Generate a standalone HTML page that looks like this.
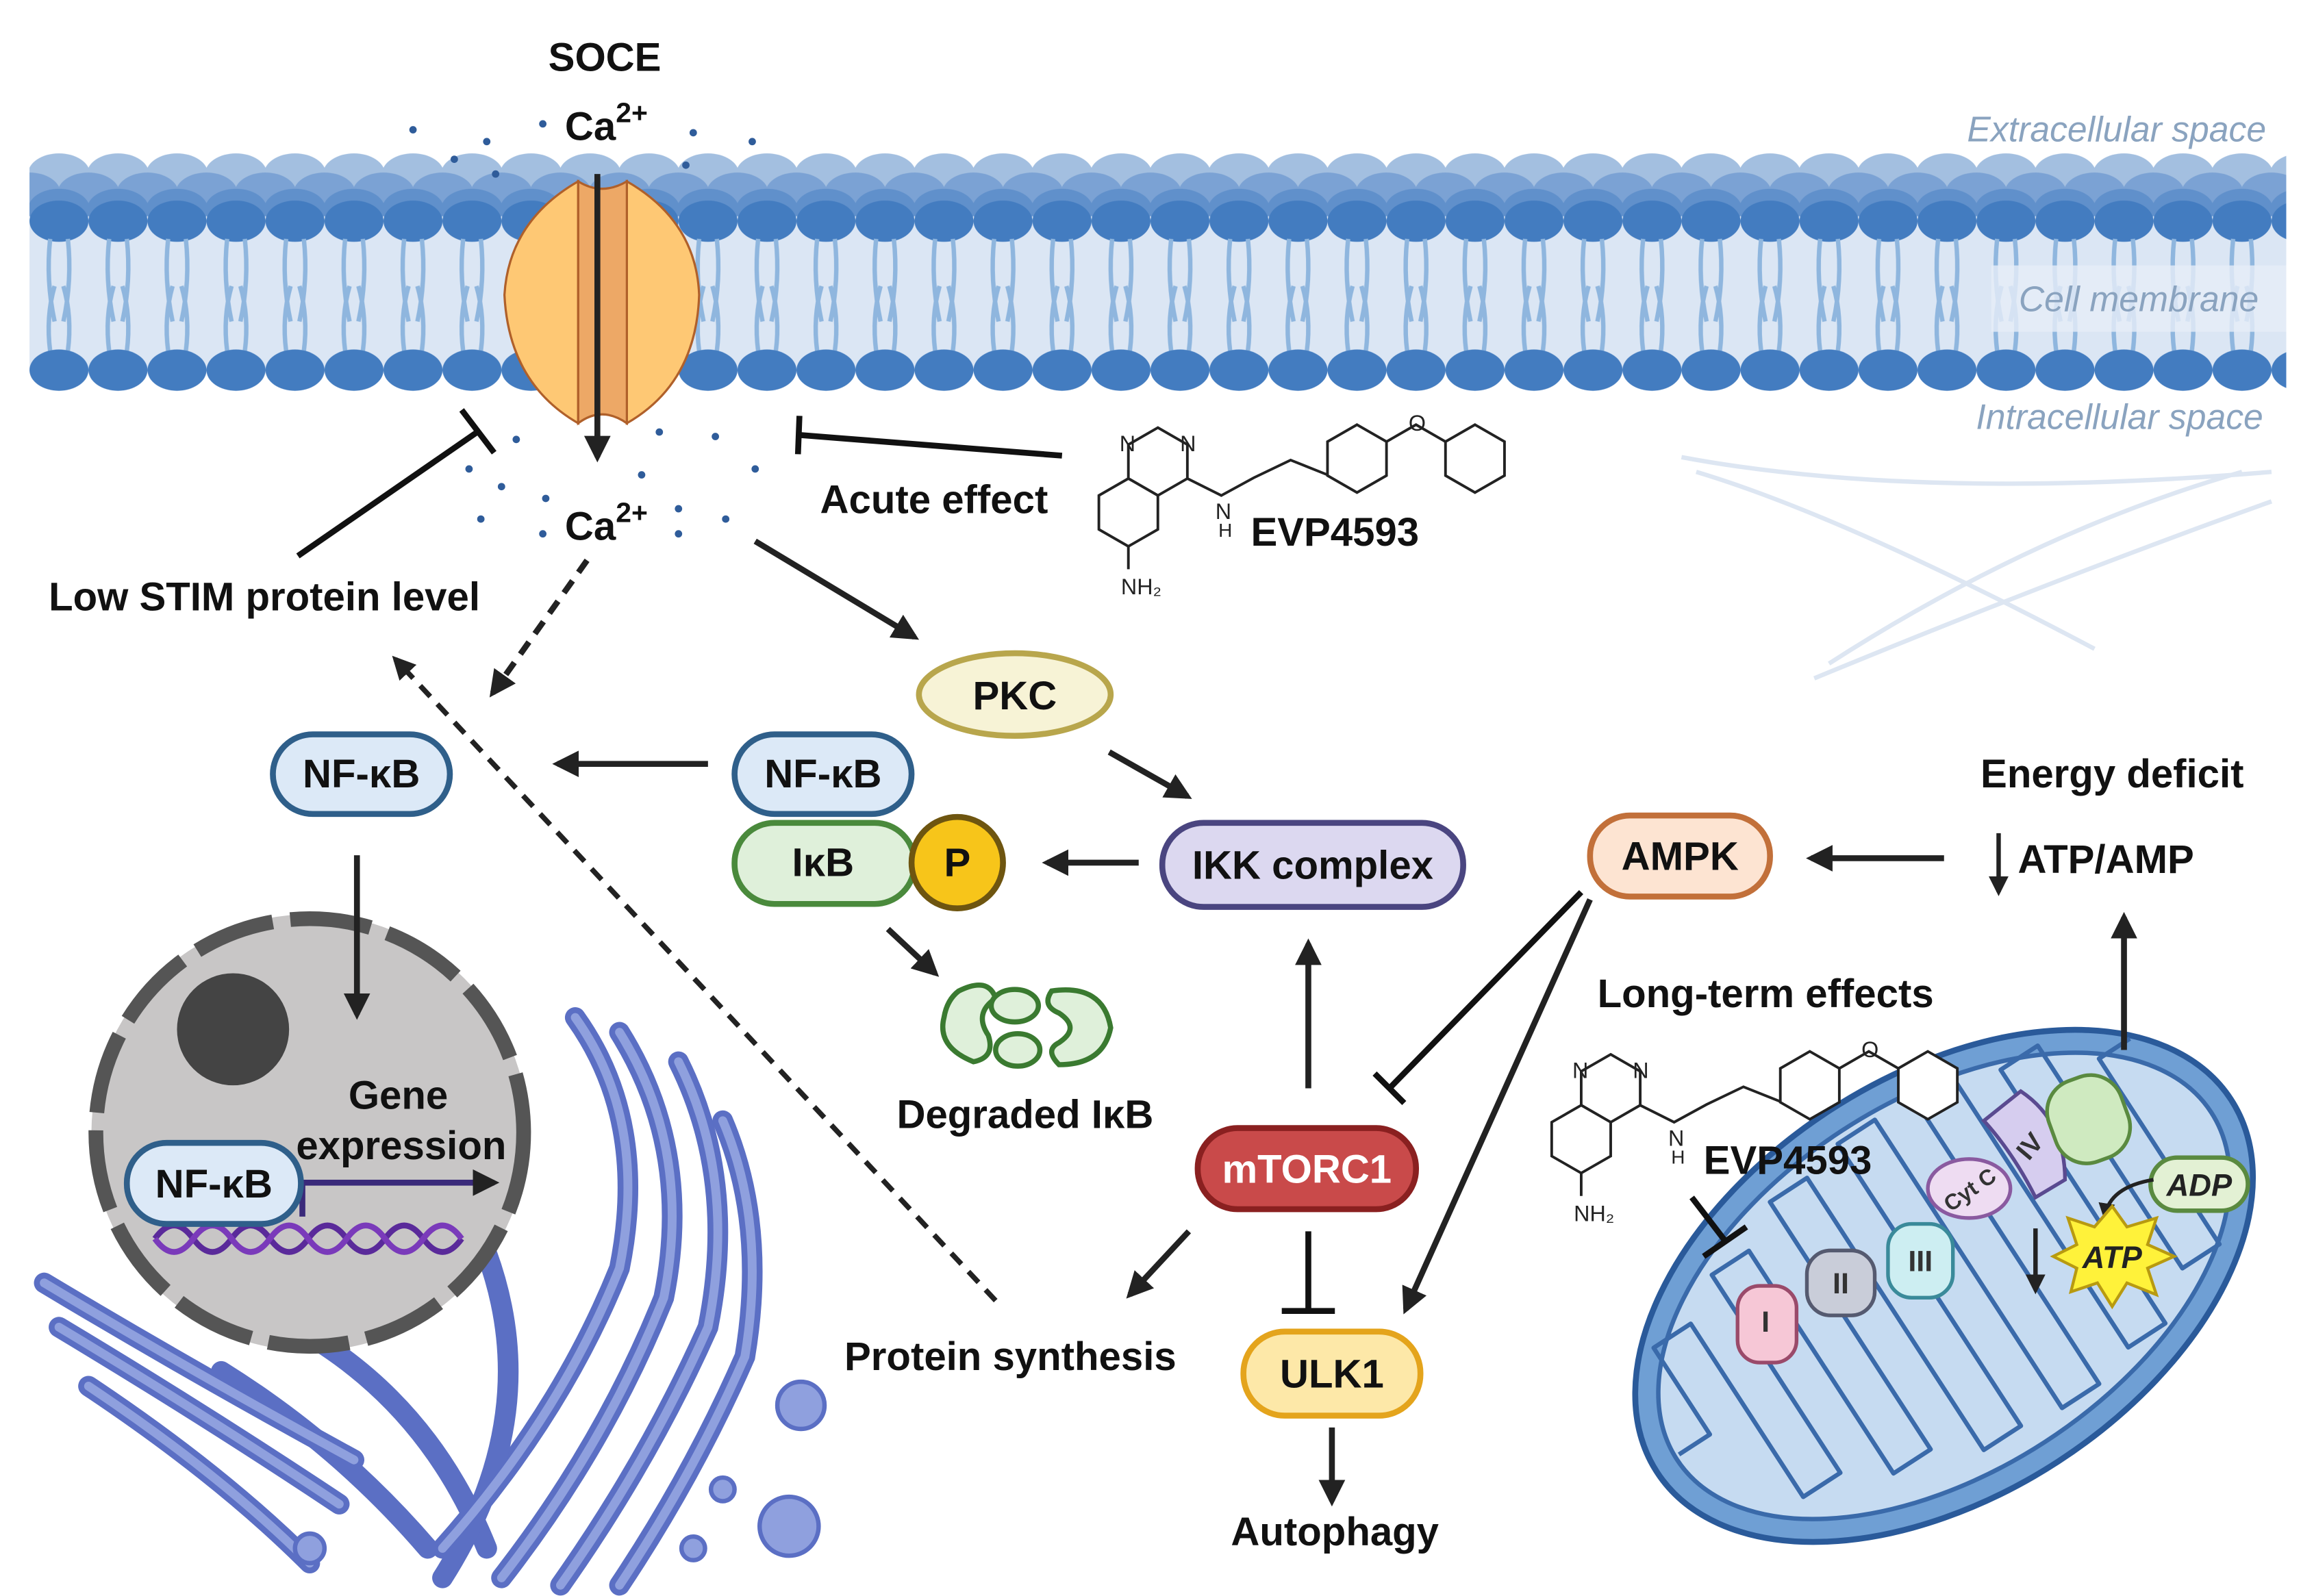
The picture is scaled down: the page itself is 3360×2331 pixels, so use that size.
<!DOCTYPE html>
<html><head><meta charset="utf-8"><style>
html,body{margin:0;padding:0;background:#fff}
svg{display:block}
text{font-family:"Liberation Sans",sans-serif}
.b{font-weight:bold;font-size:27px;fill:#111}
.it{font-style:italic;font-size:24px;fill:#8aa3bf}
</style></head><body>
<svg width="3360" height="2331" viewBox="0 0 1560 1082.3" preserveAspectRatio="none" xmlns="http://www.w3.org/2000/svg">
<defs>
<marker id="ah" viewBox="0 0 10 10" refX="8" refY="5" markerWidth="4.5" markerHeight="4.5" orient="auto"><path d="M0,0 L10,5 L0,10 z" fill="#222"/></marker>
<pattern id="heads" x="20" y="0" width="40" height="300" patternUnits="userSpaceOnUse">
<ellipse cx="20" cy="118" rx="21" ry="14" fill="#a3bfe0"/>
<ellipse cx="0" cy="131" rx="21" ry="14" fill="#7ba2d4"/><ellipse cx="40" cy="131" rx="21" ry="14" fill="#7ba2d4"/>
<ellipse cx="20" cy="142" rx="21" ry="14" fill="#6090cb"/>
<ellipse cx="20" cy="150" rx="20" ry="14" fill="#437cc0"/>
<path d="M14,162 Q11,190 17,218 M26,162 Q29,190 23,218 M14,238 Q11,215 17,194 M26,238 Q29,215 23,194" stroke="#8fb6de" stroke-width="3" fill="none"/>
<ellipse cx="20" cy="251" rx="20" ry="14" fill="#437cc0"/>
</pattern>
<g id="mol">
<g stroke="#222" stroke-width="1.8" fill="none">
<polygon points="785,290 805,301.5 805,324.5 785,336 765,324.5 765,301.5" fill="#fff"/>
<polygon points="765,324.5 785,336 785,359 765,370.5 745,359 745,336" fill="#fff"/>
<path d="M765,370.5 L765,386 M805,324.5 L828,336 L850,324 L875,312 L900,322"/>
<polygon points="920,288 940,299.5 940,322.5 920,334 900,322.5 900,299.5" fill="#fff"/>
<path d="M940,299.5 L960,288 L980,299.5"/>
<polygon points="1000,288 1020,299.5 1020,322.5 1000,334 980,322.5 980,299.5" fill="#fff"/>
</g>
<text x="759" y="306" font-size="15" fill="#222">N</text><text x="800" y="306" font-size="15" fill="#222">N</text>
<text x="824" y="352" font-size="15" fill="#222">N</text><text x="826" y="364" font-size="13" fill="#222">H</text>
<text x="955" y="292" font-size="15" fill="#222">O</text>
<text x="760" y="403" font-size="15" fill="#222">NH₂</text>
</g>
</defs>
<rect x="20" y="140" width="1530" height="112" fill="#dbe6f4"/>
<rect x="20" y="100" width="1530" height="170" fill="url(#heads)"/>
<rect x="1350" y="180" width="200" height="45" fill="#e6eef8" opacity="0.8"/>
<text class="it" x="1435" y="96" text-anchor="middle">Extracellular space</text>
<text class="it" x="1450" y="211" text-anchor="middle">Cell membrane</text>
<text class="it" x="1437" y="291" text-anchor="middle">Intracellular space</text>
<path d="M1140,310 Q1300,340 1540,320 M1150,320 Q1250,350 1420,440 M1240,450 Q1380,360 1520,320 M1230,460 Q1400,390 1540,340" stroke="#dde6f2" stroke-width="3" fill="none"/>
<!-- channel -->
<path d="M392,123 Q345,150 342,200 Q345,260 392,287 L392,123z" fill="#fec874" stroke="#b0602a" stroke-width="1.5"/>
<path d="M425,123 Q472,150 474,200 Q472,260 425,287 L425,123z" fill="#fec874" stroke="#b0602a" stroke-width="1.5"/>
<path d="M392,123 Q408,133 425,123 L425,287 Q408,275 392,287z" fill="#eda866" stroke="#b0602a" stroke-width="1.5"/>
<line x1="405" y1="118" x2="405" y2="310" stroke="#222" stroke-width="4" marker-end="url(#ah)"/>
<text x="410" y="48" class="b" font-size="33" text-anchor="middle">SOCE</text>
<text x="383" y="95" class="b" font-size="31">Ca<tspan font-size="19" dy="-12">2+</tspan></text>
<text x="383" y="366" class="b" font-size="31">Ca<tspan font-size="19" dy="-12">2+</tspan></text>
<g fill="#2f5c9a">
<circle cx="280" cy="88" r="2.5"/><circle cx="308" cy="108" r="2.5"/><circle cx="330" cy="96" r="2.5"/><circle cx="368" cy="84" r="2.5"/><circle cx="470" cy="90" r="2.5"/><circle cx="510" cy="96" r="2.5"/><circle cx="465" cy="112" r="2.5"/><circle cx="336" cy="118" r="2.5"/>
<circle cx="350" cy="298" r="2.5"/><circle cx="318" cy="318" r="2.5"/><circle cx="340" cy="330" r="2.5"/><circle cx="326" cy="352" r="2.5"/><circle cx="370" cy="338" r="2.5"/><circle cx="368" cy="362" r="2.5"/><circle cx="447" cy="293" r="2.5"/><circle cx="485" cy="296" r="2.5"/><circle cx="512" cy="318" r="2.5"/><circle cx="435" cy="322" r="2.5"/><circle cx="460" cy="345" r="2.5"/><circle cx="492" cy="352" r="2.5"/><circle cx="460" cy="362" r="2.5"/>
</g>
<line x1="202" y1="377" x2="325" y2="292" stroke="#111" stroke-width="4"/>
<line x1="313" y1="278" x2="335" y2="307" stroke="#111" stroke-width="4"/>
<text x="33" y="414" class="b">Low STIM protein level</text>
<line x1="720" y1="309" x2="542" y2="295" stroke="#111" stroke-width="4"/>
<line x1="542" y1="282" x2="541" y2="308" stroke="#111" stroke-width="4"/>
<text x="556" y="348" class="b">Acute effect</text>
<use href="#mol"/>
<text x="848" y="370" class="b" font-size="31">EVP4593</text>
<line x1="512" y1="367" x2="620" y2="432" stroke="#222" stroke-width="4" marker-end="url(#ah)"/>
<line x1="398" y1="380" x2="334" y2="470" stroke="#222" stroke-width="4" stroke-dasharray="10,7" marker-end="url(#ah)"/>
<line x1="675" y1="882" x2="268" y2="447" stroke="#222" stroke-width="3.5" stroke-dasharray="10,7" marker-end="url(#ah)"/>
<ellipse cx="688" cy="471" rx="65" ry="28" fill="#f7f3d6" stroke="#b8a64c" stroke-width="4"/>
<text x="688" y="481" class="b" text-anchor="middle">PKC</text>
<line x1="752" y1="510" x2="805" y2="540" stroke="#222" stroke-width="4" marker-end="url(#ah)"/>
<rect x="498" y="498" width="120" height="54" rx="27" fill="#dce9f7" stroke="#2f5f8a" stroke-width="4"/>
<text x="558" y="534" class="b" text-anchor="middle">NF-κB</text>
<rect x="498" y="558" width="122" height="55" rx="27" fill="#dff0da" stroke="#4a8a3c" stroke-width="4"/>
<text x="558" y="594" class="b" text-anchor="middle">IκB</text>
<circle cx="649" cy="585" r="31" fill="#f7c51a" stroke="#6e5510" stroke-width="4"/>
<text x="649" y="594" class="b" font-size="24" text-anchor="middle">P</text>
<line x1="480" y1="518" x2="378" y2="518" stroke="#222" stroke-width="4" marker-end="url(#ah)"/>
<rect x="185" y="498" width="120" height="54" rx="27" fill="#dce9f7" stroke="#2f5f8a" stroke-width="4"/>
<text x="245" y="534" class="b" text-anchor="middle">NF-κB</text>
<rect x="788" y="558" width="204" height="57" rx="28" fill="#dcd8f0" stroke="#4a4580" stroke-width="4"/>
<text x="890" y="596" class="b" text-anchor="middle">IKK complex</text>
<line x1="772" y1="585" x2="710" y2="585" stroke="#222" stroke-width="4" marker-end="url(#ah)"/>
<line x1="602" y1="630" x2="634" y2="660" stroke="#222" stroke-width="4" marker-end="url(#ah)"/>
<g fill="#dff0da" stroke="#3a7a30" stroke-width="3.5">
<path d="M650,672 q20,-10 25,5 q-15,10 -5,25 q5,15 -10,18 q-25,-10 -20,-30 q2,-12 10,-18z"/>
<ellipse cx="688" cy="682" rx="16" ry="11"/><ellipse cx="690" cy="712" rx="15" ry="11"/>
<path d="M713,672 q35,-5 40,25 q-5,25 -35,25 q-10,-10 0,-15 q15,-10 0,-20 q-12,-5 -5,-15z"/>
</g>
<text x="695" y="765" class="b" text-anchor="middle">Degraded IκB</text>
<rect x="1078" y="553" width="122" height="55" rx="27" fill="#fde4d2" stroke="#c2703a" stroke-width="4"/>
<text x="1139" y="590" class="b" text-anchor="middle">AMPK</text>
<line x1="1318" y1="582" x2="1228" y2="582" stroke="#222" stroke-width="4" marker-end="url(#ah)"/>
<text x="1432" y="534" class="b" text-anchor="middle">Energy deficit</text>
<line x1="1355" y1="565" x2="1355" y2="605" stroke="#222" stroke-width="3" marker-end="url(#ah)"/>
<text x="1368" y="592" class="b">ATP/AMP</text>
<line x1="1072" y1="605" x2="942" y2="738" stroke="#111" stroke-width="4"/>
<line x1="932" y1="728" x2="952" y2="748" stroke="#111" stroke-width="4"/>
<line x1="1078" y1="610" x2="953" y2="888" stroke="#222" stroke-width="4" marker-end="url(#ah)"/>
<line x1="887" y1="738" x2="887" y2="640" stroke="#222" stroke-width="4" marker-end="url(#ah)"/>
<rect x="812" y="765" width="148" height="55" rx="27" fill="#c94a4a" stroke="#8a2020" stroke-width="4"/>
<text x="886" y="802" class="b" text-anchor="middle" style="fill:#fff">mTORC1</text>
<line x1="806" y1="835" x2="766" y2="878" stroke="#222" stroke-width="4" marker-end="url(#ah)"/>
<line x1="887" y1="835" x2="887" y2="888" stroke="#111" stroke-width="4"/>
<line x1="869" y1="889" x2="905" y2="889" stroke="#111" stroke-width="4"/>
<text x="685" y="929" class="b" text-anchor="middle">Protein synthesis</text>
<rect x="843" y="903" width="120" height="57" rx="28" fill="#fde8a8" stroke="#e4a41c" stroke-width="4"/>
<text x="903" y="941" class="b" text-anchor="middle">ULK1</text>
<line x1="903" y1="968" x2="903" y2="1018" stroke="#222" stroke-width="4" marker-end="url(#ah)"/>
<text x="905" y="1048" class="b" text-anchor="middle">Autophagy</text>
<!-- mitochondrion -->
<g transform="rotate(-33 1318 872)">
<ellipse cx="1318" cy="872" rx="232" ry="142" fill="#6f9fd4" stroke="#2a5a9a" stroke-width="4"/>
<ellipse cx="1318" cy="872" rx="216" ry="126" fill="#c6dbf1" stroke="#3a6aaa" stroke-width="3"/>
<path d="M1105,870 L1130,870 L1130,800 L1160,800 L1160,940 L1190,940 L1190,780 L1220,780 L1220,960 L1250,960 L1250,760 L1280,760 L1280,980 L1310,980 L1310,752 L1340,752 L1340,985 L1370,985 L1370,755 L1400,755 L1400,975 L1430,975 L1430,770 L1460,770 L1460,950 L1490,950 L1490,800 L1515,800" fill="none" stroke="#3a6aaa" stroke-width="3" stroke-linejoin="round"/>
</g>
<line x1="1440" y1="712" x2="1440" y2="622" stroke="#222" stroke-width="4" marker-end="url(#ah)"/>
<g stroke-width="2.5">
<rect x="1178" y="872" width="40" height="52" rx="15" fill="#f6c7d6" stroke="#9a4a6a"/>
<rect x="1225" y="848" width="46" height="44" rx="16" fill="#c9cdd9" stroke="#555a70"/>
<rect x="1280" y="830" width="44" height="50" rx="16" fill="#cdeef2" stroke="#3a8a9a"/>
<ellipse cx="1335" cy="806" rx="28" ry="20" fill="#eedcf2" stroke="#8a5aa0"/>
<path d="M1345,760 l25,-20 q30,20 30,60 l-20,12 q-15,-30 -35,-52z" fill="#d6cdef" stroke="#5a4a90"/>
<rect x="1390" y="730" width="52" height="58" rx="22" fill="#cfeac0" stroke="#5a8a40" transform="rotate(-20 1416 759)"/>
</g>
<text x="1197" y="903" font-size="20" font-weight="bold" fill="#333" text-anchor="middle">I</text>
<text x="1248" y="877" font-size="20" font-weight="bold" fill="#333" text-anchor="middle">II</text>
<text x="1302" y="862" font-size="20" font-weight="bold" fill="#333" text-anchor="middle">III</text>
<text x="1335" y="812" font-size="15" font-weight="bold" fill="#333" text-anchor="middle" transform="rotate(-35 1335 806)">Cyt C</text>
<text x="1377" y="783" font-size="18" font-weight="bold" fill="#333" text-anchor="middle" transform="rotate(-50 1377 778)">IV</text>
<rect x="1458" y="785" width="66" height="36" rx="18" fill="#e3f1d4" stroke="#5a8a40" stroke-width="3"/>
<text x="1491" y="811" font-size="21" font-weight="bold" font-style="italic" fill="#222" text-anchor="middle">ADP</text>
<path d="M1460,800 Q1430,805 1427,825" stroke="#222" stroke-width="2.5" fill="none" marker-end="url(#ah)"/>
<polygon points="1432,818 1442,832 1462,826 1456,844 1474,852 1456,860 1462,878 1442,870 1432,886 1422,870 1404,876 1408,860 1392,852 1408,844 1402,826 1420,832" fill="#fff23a" stroke="#b89a10" stroke-width="2"/>
<text x="1432" y="860" font-size="21" font-weight="bold" font-style="italic" fill="#222" text-anchor="middle">ATP</text>
<line x1="1380" y1="833" x2="1380" y2="875" stroke="#222" stroke-width="3" marker-end="url(#ah)"/>
<!-- long-term -->
<text x="1197" y="683" class="b" text-anchor="middle">Long-term effects</text>
<use href="#mol" transform="translate(307,425)"/>
<text x="1155" y="796" class="b" font-size="31">EVP4593</text>
<line x1="1147" y1="812" x2="1170" y2="842" stroke="#111" stroke-width="4"/>
<line x1="1155" y1="852" x2="1184" y2="832" stroke="#111" stroke-width="4"/>
<!-- ER -->
<g fill="none" stroke="#5b6fc4" stroke-width="14" stroke-linecap="round">
<path d="M390,690 Q440,760 420,860 Q380,960 300,1050"/>
<path d="M420,700 Q470,780 450,880 Q410,980 340,1070"/>
<path d="M460,720 Q500,800 480,900 Q440,990 380,1075"/>
<path d="M490,760 Q520,830 505,920 Q470,1000 420,1075"/>
<path d="M30,870 Q130,930 240,990"/>
<path d="M40,900 Q140,960 230,1020"/>
<path d="M60,940 Q150,1000 210,1060"/>
<path d="M150,930 Q230,980 290,1050"/>
<path d="M200,900 Q290,950 330,1050"/>
<path d="M330,850 Q370,960 300,1070"/>
</g>
<g fill="none" stroke="#8fa0de" stroke-width="6" stroke-linecap="round">
<path d="M390,690 Q440,760 420,860 Q380,960 300,1050"/>
<path d="M420,700 Q470,780 450,880 Q410,980 340,1070"/>
<path d="M460,720 Q500,800 480,900 Q440,990 380,1075"/>
<path d="M490,760 Q520,830 505,920 Q470,1000 420,1075"/>
<path d="M30,870 Q130,930 240,990"/>
<path d="M40,900 Q140,960 230,1020"/>
<path d="M60,940 Q150,1000 210,1060"/>
</g>
<g fill="#8fa0de" stroke="#5b6fc4" stroke-width="3">
<circle cx="543" cy="953" r="16"/><circle cx="535" cy="1035" r="20"/><circle cx="490" cy="1010" r="8"/><circle cx="210" cy="1050" r="10"/><circle cx="470" cy="1050" r="8"/>
</g>
<!-- nucleus -->
<circle cx="210" cy="768" r="148" fill="#c8c6c6"/>
<circle cx="210" cy="768" r="145" fill="none" stroke="#555" stroke-width="10" stroke-dasharray="55,12"/>
<circle cx="158" cy="698" r="38" fill="#444"/>
<line x1="242" y1="580" x2="242" y2="688" stroke="#222" stroke-width="4" marker-end="url(#ah)"/>
<path d="M105,840 q13,-18 26,0 t26,0 t26,0 t26,0 t26,0 t26,0 t26,0 t26,0" stroke="#5a2a9a" stroke-width="4" fill="none"/>
<path d="M105,840 q13,18 26,0 t26,0 t26,0 t26,0 t26,0 t26,0 t26,0 t26,0" stroke="#7a3aba" stroke-width="4" fill="none"/>
<path d="M205,825 L205,802 L335,802" stroke="#3a2a7a" stroke-width="4" fill="none" marker-end="url(#ah)"/>
<rect x="86" y="775" width="118" height="55" rx="27" fill="#dce9f7" stroke="#2f5f8a" stroke-width="4"/>
<text x="145" y="812" class="b" text-anchor="middle">NF-κB</text>
<text x="270" y="752" class="b" text-anchor="middle">Gene</text>
<text x="272" y="786" class="b" text-anchor="middle">expression</text>
</svg>
</body></html>
